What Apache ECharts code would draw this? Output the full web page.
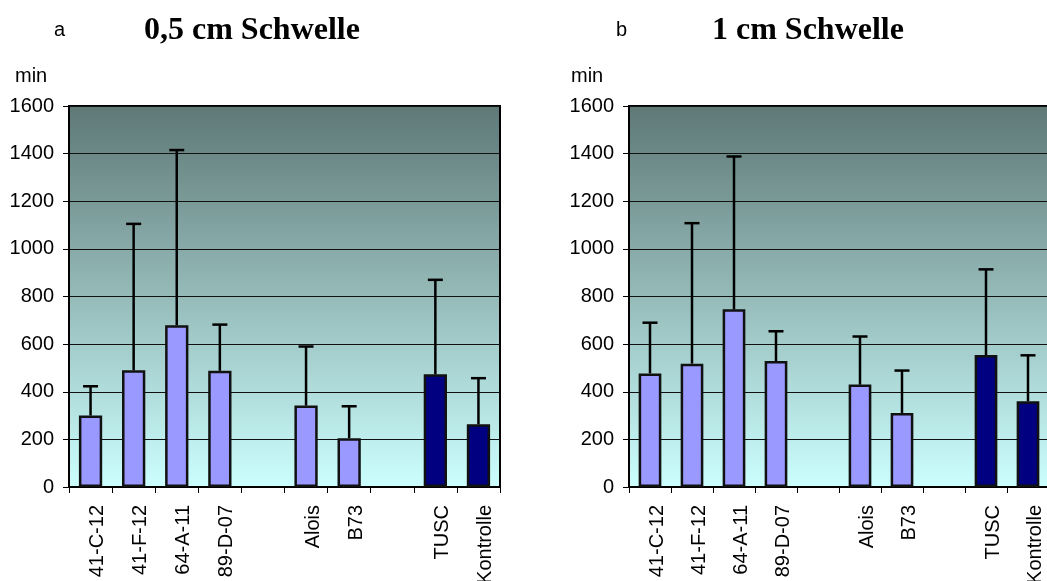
<!DOCTYPE html>
<html>
<head>
<meta charset="utf-8">
<script src="https://cdn.jsdelivr.net/npm/echarts@6/dist/echarts.min.js"></script>
<style>
  html, body { margin: 0; padding: 0; background: #fff; }
  #chart { width: 1047px; height: 581px; }
</style>
</head>
<body>
<div id="chart"></div>
<script>
// categories (empty strings are the gaps between the groups)
const categories = ['41-C-12', '41-F-12', '64-A-11', '89-D-07', '', 'Alois', 'B73', '', 'TUSC', 'Kontrolle']
const darkCategories = ['TUSC', 'Kontrolle']
const yTicks = [0, 200, 400, 600, 800, 1000, 1200, 1400, 1600]

// a: 0,5 cm Schwelle
const meanA = [300, 490, 679, 488, null, 342, 205, null, 473, 263]
const upperA = [423, 1105, 1415, 682, null, 590, 339, null, 870, 457]
// b: 1 cm Schwelle
const meanB = [477, 518, 746, 529, null, 430, 311, null, 554, 360]
const upperB = [690, 1108, 1388, 654, null, 632, 489, null, 914, 553]

const lightBar = '#9999ff'
const darkBar = '#000080'
const font = 'Liberation Sans, Arial, sans-serif'
const serif = 'Liberation Serif, Times New Roman, serif'

const bg = new echarts.graphic.LinearGradient(0, 0, 0, 1, [
  { offset: 0, color: '#5e7876' },
  { offset: 0.5, color: '#95bbb9' },
  { offset: 1, color: '#ccffff' }
])

const barData = (mean) => mean.map((v, i) => v == null ? '-' : {
  value: v,
  itemStyle: { color: darkCategories.includes(categories[i]) ? darkBar : lightBar }
})

const errData = (mean, upper) => mean
  .map((v, i) => v == null ? null : [i, v, upper[i]])
  .filter(Boolean)

const errorBars = (params, api) => {
  const lo = api.coord([api.value(0), api.value(1)])
  const hi = api.coord([api.value(0), api.value(2)])
  const half = 7.5
  const st = { stroke: '#000', lineWidth: 2.5 }
  return {
    type: 'group',
    children: [
      { type: 'line', shape: { x1: lo[0], y1: lo[1], x2: hi[0], y2: hi[1] }, style: st },
      { type: 'line', shape: { x1: hi[0] - half, y1: hi[1], x2: hi[0] + half, y2: hi[1] }, style: st }
    ]
  }
}

const xAxis = (gridIndex) => ({
  type: 'category',
  gridIndex: gridIndex,
  data: categories,
  boundaryGap: true,
  axisLine: { show: true, lineStyle: { color: '#000', width: 2 } },
  axisTick: { show: true, interval: 0, length: 6, lineStyle: { color: '#000', width: 1 } },
  axisLabel: {
    interval: 0, rotate: 90, margin: 18, verticalAlign: 'top', lineHeight: 14,
    color: '#000', fontSize: 20, fontFamily: font
  },
  splitLine: { show: false }
})

const yAxis = (gridIndex) => ({
  type: 'value',
  gridIndex: gridIndex,
  min: yTicks[0],
  max: yTicks[yTicks.length - 1],
  interval: 200,
  axisLine: { show: true, lineStyle: { color: '#000', width: 2 } },
  axisTick: { show: true, length: 6, lineStyle: { color: '#000', width: 1 } },
  axisLabel: { margin: 15, color: '#000', fontSize: 20, fontFamily: font, formatter: (v) => String(v) },
  splitLine: { show: true, lineStyle: { color: '#111', width: 1 } }
})

const barSeries = (idx, mean) => ({
  type: 'bar',
  xAxisIndex: idx,
  yAxisIndex: idx,
  data: barData(mean),
  barWidth: '54%',
  itemStyle: { borderColor: '#111', borderWidth: 2.5 }
})

const errSeries = (idx, mean, upper) => ({
  type: 'custom',
  xAxisIndex: idx,
  yAxisIndex: idx,
  renderItem: errorBars,
  encode: { x: 0, y: [1, 2] },
  data: errData(mean, upper),
  z: 3
})

const small = { fontFamily: font, fontSize: 20, fontWeight: 'normal', color: '#000' }
const big = { fontFamily: serif, fontSize: 32, fontWeight: 'bold', color: '#000' }

const chart = echarts.init(document.getElementById('chart'))
chart.setOption({
  animation: false,
  title: [
    { text: 'a', left: 49, top: 15, textStyle: small },
    { text: '0,5 cm Schwelle', left: 139, top: 10, textStyle: big },
    { text: 'min', left: 10, top: 61, textStyle: small },
    { text: 'b', left: 611, top: 15, textStyle: small },
    { text: '1 cm Schwelle', left: 707, top: 10, textStyle: big },
    { text: 'min', left: 566, top: 61, textStyle: small }
  ],
  grid: [
    { left: 69, top: 106, width: 431, height: 381, outerBoundsMode: 'none', show: true, backgroundColor: bg, borderColor: '#000', borderWidth: 2 },
    { left: 629, top: 106, width: 420, height: 381, outerBoundsMode: 'none', show: true, backgroundColor: bg, borderColor: '#000', borderWidth: 2 }
  ],
  xAxis: [xAxis(0), xAxis(1)],
  yAxis: [yAxis(0), yAxis(1)],
  series: [
    barSeries(0, meanA),
    errSeries(0, meanA, upperA),
    barSeries(1, meanB),
    errSeries(1, meanB, upperB)
  ]
})
</script>
</body>
</html>
